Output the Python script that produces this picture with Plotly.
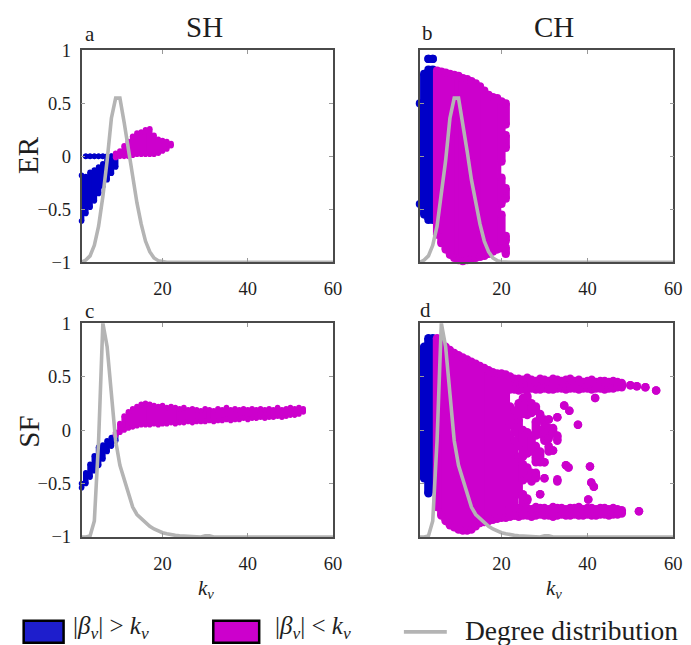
import plotly.graph_objects as go

W, H = 691, 645

# ---------------- degree distributions (scaled onto the y axis) ----------------
deg_k = list(range(1, 61))
er_deg = [-1.0, -0.98, -0.94, -0.84, -0.66, -0.38, -0.04, 0.36, 0.55, 0.55,
          0.32, 0.05, -0.22, -0.44, -0.64, -0.8, -0.9, -0.96, -0.985, -0.995] + [-1.0] * 40
sf_deg = [-1.0, -1.0, -0.99, -0.85, -0.1, 1.0, 0.78, 0.35, -0.1, -0.33,
          -0.46, -0.6, -0.72, -0.79, -0.83, -0.87, -0.9, -0.925, -0.945, -0.96,
          -0.97, -0.98, -0.985, -0.99, -0.993, -0.995, -0.997, -0.998, -1.0, -0.99,
          -0.99, -1.0, -1.0, -1.0, -1.0, -1.0, -1.0, -0.995, -1.0, -1.0] + [-1.0] * 20

# ---------------- panel a (ER, SH) : columns of points (k, low, high) ----------------
a_blue_k = [1, 2, 3, 4, 5, 6, 7, 8, 9, 2, 3, 4, 5, 6, 7, 8, 9]
a_blue_lo = [-0.61, -0.54, -0.48, -0.42, -0.35, -0.28, -0.22, -0.16, -0.10, 0, 0, 0, 0, 0, 0, 0, 0]
a_blue_hi = [-0.18, -0.19, -0.15, -0.13, -0.1, -0.07, -0.03, 0.0, 0.02, 0, 0, 0, 0, 0, 0, 0, 0]
a_mag_k = [9, 10, 11, 12, 13, 14, 15, 16, 17, 18, 19, 20, 21, 22]
a_mag_lo = [-0.01, 0.0, 0.0, 0.0, 0.01, 0.02, 0.02, 0.02, 0.02, 0.02, 0.03, 0.05, 0.07, 0.1]
a_mag_hi = [0.03, 0.05, 0.1, 0.14, 0.19, 0.22, 0.23, 0.25, 0.26, 0.2, 0.16, 0.15, 0.14, 0.12]

# ---------------- panel b (ER, CH) ----------------
b_blue_k = [1, 2, 3, 4, 3, 4]
b_blue_lo = [-0.45, -0.55, -0.6, -0.6, 0.92, 0.92]
b_blue_hi = [0.5, 0.78, 0.82, 0.82, 0.92, 0.92]
b_mag_k = [5, 6, 7, 8, 9, 10, 11, 12, 13, 14, 15, 16, 17, 18, 19,
           20, 20, 20, 21, 21, 21, 21, 21]
b_mag_lo = [-0.74, -0.82, -0.88, -0.93, -0.96, -0.98, -0.99, -0.98, -0.97, -0.96, -0.95, -0.94, -0.92, -0.9, -0.88,
            -0.87, -0.45, -0.05, 0.3, 0.08, -0.4, -0.8, -0.92]
b_mag_hi = [0.81, 0.8, 0.79, 0.78, 0.77, 0.76, 0.74, 0.73, 0.71, 0.69, 0.66, 0.62, 0.58, 0.56, 0.55,
            -0.55, -0.2, 0.52, 0.5, 0.2, -0.3, -0.75, -0.86]

# ---------------- panel c (SF, SH) ----------------
c_blue_k = [1, 2, 3, 4, 5, 6, 7, 8, 9]
c_blue_lo = [-0.54, -0.5, -0.44, -0.38, -0.33, -0.27, -0.2, -0.15, -0.1]
c_blue_hi = [-0.5, -0.4, -0.32, -0.24, -0.16, -0.14, -0.1, -0.07, -0.04]
c_mag_k = list(range(9, 54))
c_mag_lo = [-0.05, -0.02, 0.0, 0.02, 0.03, 0.04, 0.05, 0.05, 0.05, 0.06, 0.05, 0.06, 0.06, 0.07, 0.06,
            0.07, 0.07, 0.08, 0.07, 0.08, 0.08, 0.08, 0.09, 0.08, 0.09, 0.09, 0.1, 0.09, 0.1, 0.1,
            0.11, 0.1, 0.11, 0.11, 0.12, 0.11, 0.12, 0.12, 0.13, 0.12, 0.13, 0.14, 0.14, 0.15, 0.17]
c_mag_hi = [-0.02, 0.06, 0.13, 0.17, 0.2, 0.22, 0.24, 0.25, 0.24, 0.23, 0.22, 0.23, 0.21, 0.22, 0.21,
            0.2, 0.21, 0.19, 0.2, 0.19, 0.18, 0.2, 0.19, 0.18, 0.2, 0.19, 0.21, 0.19, 0.2, 0.19,
            0.2, 0.19, 0.2, 0.19, 0.2, 0.19, 0.2, 0.19, 0.21, 0.19, 0.2, 0.21, 0.2, 0.21, 0.2]

# ---------------- panel d (SF, CH) ----------------
d_blue_k = [2, 3, 4]
d_blue_lo = [-0.45, -0.59, -0.55]
d_blue_hi = [0.78, 0.86, 0.86]
d_mag_k = [5, 6, 7, 8, 9, 10, 11, 12, 13, 14, 15, 16, 17, 18, 19, 20, 21]
d_mag_lo = [-0.72, -0.8, -0.85, -0.89, -0.91, -0.93, -0.94, -0.94, -0.93, -0.9, -0.87, -0.86, -0.85, -0.84, -0.83, -0.82, -0.82]
d_mag_hi = [0.86, 0.82, 0.78, 0.75, 0.72, 0.7, 0.68, 0.66, 0.64, 0.62, 0.6, 0.58, 0.56, 0.54, 0.53, 0.53, 0.52]
d_band_k = list(range(22, 49))
d_up_lo = [0.38, 0.38, 0.37, 0.38, 0.38, 0.39, 0.38, 0.38, 0.39, 0.38, 0.38, 0.39, 0.39, 0.38, 0.39,
           0.39, 0.38, 0.39, 0.39, 0.38, 0.39, 0.39, 0.38, 0.39, 0.39, 0.4, 0.4]
d_up_hi = [0.5, 0.48, 0.48, 0.47, 0.49, 0.47, 0.46, 0.48, 0.47, 0.46, 0.48, 0.47, 0.46, 0.47, 0.48,
           0.46, 0.47, 0.45, 0.46, 0.47, 0.45, 0.46, 0.46, 0.45, 0.46, 0.45, 0.44]
d_low_lo = [-0.81, -0.8, -0.81, -0.8, -0.8, -0.81, -0.8, -0.79, -0.8, -0.8, -0.81, -0.8, -0.79, -0.8, -0.8,
            -0.79, -0.8, -0.8, -0.79, -0.8, -0.8, -0.79, -0.79, -0.8, -0.79, -0.79, -0.78]
d_low_hi = [-0.72, -0.73, -0.73, -0.72, -0.73, -0.74, -0.72, -0.73, -0.73, -0.74, -0.72, -0.73, -0.73, -0.74, -0.73,
            -0.73, -0.72, -0.74, -0.73, -0.73, -0.74, -0.73, -0.73, -0.74, -0.73, -0.74, -0.75]
d_mid_k = [22, 22, 23, 23, 24, 24, 24, 25, 25, 25, 25, 26, 26, 26, 26, 27, 27, 27,
           28, 28, 28, 28, 28, 29, 29, 29, 29, 30, 30, 30, 30, 31, 31, 31, 32, 32, 33, 33, 33,
           34.6, 35.8, 35.0, 35.6, 37.8, 41.8, 40.6, 40.9, 41.5, 40.2,
           50.0, 51.5, 53.5, 56.0, 52.0]
d_mid_lo = [-0.8, 0.05, -0.8, -0.02, -0.6, -0.15, 0.15, -0.68, -0.47, -0.25, 0.15, -0.66, -0.45, -0.22, 0.14,
            -0.48, -0.2, 0.16, -0.45, -0.3, -0.2, -0.05, 0.18, -0.6, -0.3, -0.04, 0.1, -0.45, -0.3, -0.1, 0.05,
            -0.2, -0.08, 0.1, -0.19, -0.02, -0.48, -0.1, 0.12,
            0.23, 0.18, -0.33, -0.35, 0.05, 0.30, -0.34, -0.49, -0.53, -0.65,
            0.42, 0.41, 0.40, 0.37, -0.76]
d_mid_hi = [-0.05, 0.22, -0.1, 0.18, -0.25, 0.1, 0.25, -0.6, -0.32, 0.0, 0.3, -0.64, -0.35, -0.02, 0.32,
            -0.4, -0.05, 0.25, -0.4, -0.25, -0.15, 0.08, 0.22, -0.6, -0.2, 0.0, 0.15, -0.45, -0.3, 0.0, 0.1,
            -0.15, 0.02, 0.1, -0.19, 0.02, -0.46, -0.05, 0.12,
            0.23, 0.18, -0.33, -0.35, 0.05, 0.30, -0.34, -0.49, -0.53, -0.65,
            0.42, 0.41, 0.40, 0.37, -0.76]

BLUE = "#0000c8"
MAG = "#cc00cc"
GREY = "#b4b4b4"
FONT = "Liberation Serif"
TXT = "#1e1e1e"


def columns(ks, los, his):
    xs, ys = [], []
    for k, lo, hi in zip(ks, los, his):
        xs += [k, k, None]
        ys += [lo, hi, None]
    return xs, ys


def col_trace(ks, los, his, color, size, xa, ya):
    xs, ys = columns(ks, los, his)
    return go.Scatter(x=xs, y=ys, mode="lines+markers", xaxis=xa, yaxis=ya, cliponaxis=False,
                      line=dict(color=color, width=size), connectgaps=False,
                      marker=dict(color=color, size=size, line=dict(width=0)),
                      showlegend=False, hoverinfo="skip")


fig = go.Figure()
panels = [
    ("x", "y", [(a_blue_k, a_blue_lo, a_blue_hi, BLUE)], [(a_mag_k, a_mag_lo, a_mag_hi, MAG)], er_deg, 5.6),
    ("x2", "y2", [(b_blue_k, b_blue_lo, b_blue_hi, BLUE)], [(b_mag_k, b_mag_lo, b_mag_hi, MAG)], er_deg, 8.2),
    ("x3", "y3", [(c_blue_k, c_blue_lo, c_blue_hi, BLUE)], [(c_mag_k, c_mag_lo, c_mag_hi, MAG)], sf_deg, 5.6),
    ("x4", "y4", [(d_blue_k, d_blue_lo, d_blue_hi, BLUE)],
     [(d_mag_k, d_mag_lo, d_mag_hi, MAG), (d_band_k, d_up_lo, d_up_hi, MAG),
      (d_band_k, d_low_lo, d_low_hi, MAG), (d_mid_k, d_mid_lo, d_mid_hi, MAG)], sf_deg, 8.5),
]
for xa, ya, blues, mags, deg, size in panels:
    for ks, lo, hi, c in blues + mags:
        fig.add_trace(col_trace(ks, lo, hi, c, size, xa, ya))
    fig.add_trace(go.Scatter(x=deg_k, y=deg, mode="lines", xaxis=xa, yaxis=ya,
                             line=dict(color=GREY, width=3.6), showlegend=False, hoverinfo="skip"))


# ---------------- placement helpers (screen pixel -> paper fraction) ----------------
def px_x(p):
    return ((p - 6.3) / 0.989) / W


def px_y(p):
    return 1 - ((p - 17.5) / 0.970) / H


xdom_l = [px_x(80), px_x(332)]
xdom_r = [px_x(419), px_x(673)]
ydom_t = [px_y(262), px_y(50)]
ydom_b = [px_y(537), px_y(323)]

x_ticks = [20, 40, 60]
x_ticktext = ["20", "40", "60"]
y_ticks = [-1, -0.5, 0, 0.5, 1]
y_ticktext = ["\u22121", "\u22120.5", "0", "0.5", "1"]

common = dict(showgrid=False, zeroline=False, showline=True, linecolor="#4a4a4a", linewidth=1.5,
              mirror="allticks", ticks="inside", ticklen=4, tickwidth=1, tickcolor="#999999",
              tickfont=dict(family=FONT, size=18.5, color=TXT))
layout_axes = {}
for i, (xd, yd, ylab) in enumerate([(xdom_l, ydom_t, True), (xdom_r, ydom_t, False),
                                    (xdom_l, ydom_b, True), (xdom_r, ydom_b, False)], start=1):
    sx = "" if i == 1 else str(i)
    layout_axes["xaxis" + sx] = dict(common, domain=xd, range=[1, 60], anchor="y" + sx,
                                     tickvals=x_ticks, ticktext=x_ticktext, ticklabelstandoff=9)
    layout_axes["yaxis" + sx] = dict(common, domain=yd, range=[-1, 1], anchor="x" + sx,
                                     tickvals=y_ticks, ticktext=y_ticktext, showticklabels=ylab,
                                     ticklabelstandoff=5)

fig.update_layout(width=W, height=H, margin=dict(l=0, r=0, t=0, b=0),
                  paper_bgcolor="white", plot_bgcolor="white", showlegend=False, **layout_axes)


# ---------------- text ----------------
def ann(text, x, y, size, xanchor="center", **kw):
    fig.add_annotation(text=text, x=px_x(x), y=px_y(y), xref="paper", yref="paper",
                       xanchor=xanchor, yanchor="middle", showarrow=False,
                       font=dict(family=FONT, size=size, color=TXT), **kw)


ann("SH", 203, 27, 29)
ann("CH", 553, 27, 29)
ann("a", 88, 34, 21)
ann("b", 427, 33, 21)
ann("c", 88, 311, 21)
ann("d", 425, 310, 21)
ann("ER", 27, 155, 29, textangle=-90)
ann("SF", 27, 432, 29, textangle=-90)
kv = "<i>k</i><sub><i>v</i></sub>"
ann(kv, 205, 589, 21)
ann(kv, 553, 589, 21)

# ---------------- legend (drawn manually) ----------------
box_y = 632
for x0, x1, col in [(22, 62, "#1e1ecc"), (212, 258, MAG)]:
    fig.add_shape(type="rect", xref="paper", yref="paper", x0=px_x(x0), x1=px_x(x1),
                  y0=px_y(box_y + 11), y1=px_y(box_y - 11), fillcolor=col, line=dict(color="black", width=2.5))
fig.add_shape(type="line", xref="paper", yref="paper", x0=px_x(403), x1=px_x(446),
              y0=px_y(box_y), y1=px_y(box_y), line=dict(color=GREY, width=3.6))
beta = "|<i>\u03b2</i><sub><i>v</i></sub>|"
txt_y = 628
ann(beta + " &gt; " + kv, 69, txt_y, 25, xanchor="left")
ann(beta + " &lt; " + kv, 272, txt_y, 25, xanchor="left")
ann("Degree distribution", 462, 631, 27.5, xanchor="left")

fig.write_html("out.html")
